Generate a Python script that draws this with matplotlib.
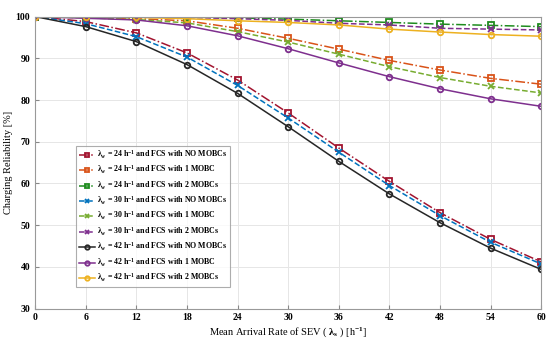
import numpy as np
import matplotlib
matplotlib.use('Agg')
import matplotlib.pyplot as plt

plt.rcParams['font.family'] = 'Liberation Serif'
plt.rcParams['font.weight'] = 'bold'
plt.rcParams['mathtext.fontset'] = 'custom'
plt.rcParams['mathtext.rm'] = 'Liberation Serif:bold'
plt.rcParams['mathtext.it'] = 'Liberation Serif:bold'
plt.rcParams['mathtext.bf'] = 'Liberation Serif:bold'

# arrival rate of SEV
x = [0, 6, 12, 18, 24, 30, 36, 42, 48, 54, 60]

# lambda_w = 24
r24_0 = [100, 98.8, 96.1, 91.3, 84.8, 76.9, 68.5, 60.5, 53.0, 46.6, 41.2]
r24_1 = [100, 99.8, 99.5, 99.0, 97.2, 94.8, 92.2, 89.5, 87.2, 85.2, 83.8]
r24_2 = [100, 100, 100, 99.9, 99.7, 99.4, 99.0, 98.6, 98.2, 97.9, 97.6]
# lambda_w = 30
r30_0 = [100, 98.3, 95.2, 90.3, 83.5, 75.7, 67.5, 59.5, 52.3, 45.9, 40.7]
r30_1 = [100, 99.7, 99.3, 98.5, 96.4, 93.9, 91.0, 88.0, 85.4, 83.3, 81.7]
r30_2 = [100, 100, 99.9, 99.8, 99.5, 99.1, 98.4, 98.0, 97.2, 97.0, 96.8]
# lambda_w = 42
r42_0 = [100, 97.6, 94.0, 88.5, 81.6, 73.6, 65.3, 57.5, 50.6, 44.5, 39.4]
r42_1 = [100, 99.6, 99.2, 97.8, 95.4, 92.3, 88.9, 85.6, 82.7, 80.3, 78.5]
r42_2 = [100, 99.9, 99.8, 99.5, 99.0, 98.6, 98.0, 97.0, 96.3, 95.7, 95.3]

series = [
    (r24_0, '24', 'NO MOBCs', '#A2142F', '-.', 's'),
    (r24_1, '24', '1 MOBC', '#D95319', '-.', 's'),
    (r24_2, '24', '2 MOBCs', '#1E8C1E', '-.', 's'),
    (r30_0, '30', 'NO MOBCs', '#0072BD', '--', 'x'),
    (r30_1, '30', '1 MOBC', '#77AC30', '--', 'x'),
    (r30_2, '30', '2 MOBCs', '#7E2F8E', '--', 'x'),
    (r42_0, '42', 'NO MOBCs', '#262626', '-', 'o'),
    (r42_1, '42', '1 MOBC', '#7E2F8E', '-', 'o'),
    (r42_2, '42', '2 MOBCs', '#EDB120', '-', 'o'),
]

fig = plt.figure(figsize=(5.5, 3.46), dpi=100)
ax = fig.add_axes([0.064, 0.108, 0.92, 0.844])

for vals, lam, lab, c, ls, m in series:
    ax.plot(x, vals, color=c, linestyle=ls, marker=m, markersize=4,
            markerfacecolor='none', markeredgewidth=1.3, linewidth=1.1,
            label=r'$\lambda_w$ = ' + lam + r' h$^{-1}$ and FCS with ' + lab)

ax.set_xlim(0, 60)
ax.set_ylim(30, 100)
ax.set_xticks(x)
ax.set_yticks(range(30, 101, 10))
ax.grid(True, color='#e6e6e6', linewidth=0.7)
ax.tick_params(direction='in', labelsize=7, length=3, color='#888888')
for s in ax.spines.values():
    s.set_color('#999999')
ax.set_xlabel(r'Mean Arrival Rate of SEV ( $\lambda_s$ ) [h$^{-1}$]', fontsize=7.5, labelpad=2)
ax.set_ylabel('Charging Reliability [%]', fontsize=7.5, labelpad=2)

leg = ax.legend(loc='upper left', bbox_to_anchor=(0.081, 0.557), fontsize=5.7,
                frameon=True, fancybox=False, edgecolor='#999999',
                handlelength=2.0, handletextpad=0.3, labelspacing=0.4,
                borderpad=0.35, borderaxespad=0, markerscale=0.8)
leg.get_frame().set_linewidth(0.8)

plt.savefig('out.png', dpi=100)
